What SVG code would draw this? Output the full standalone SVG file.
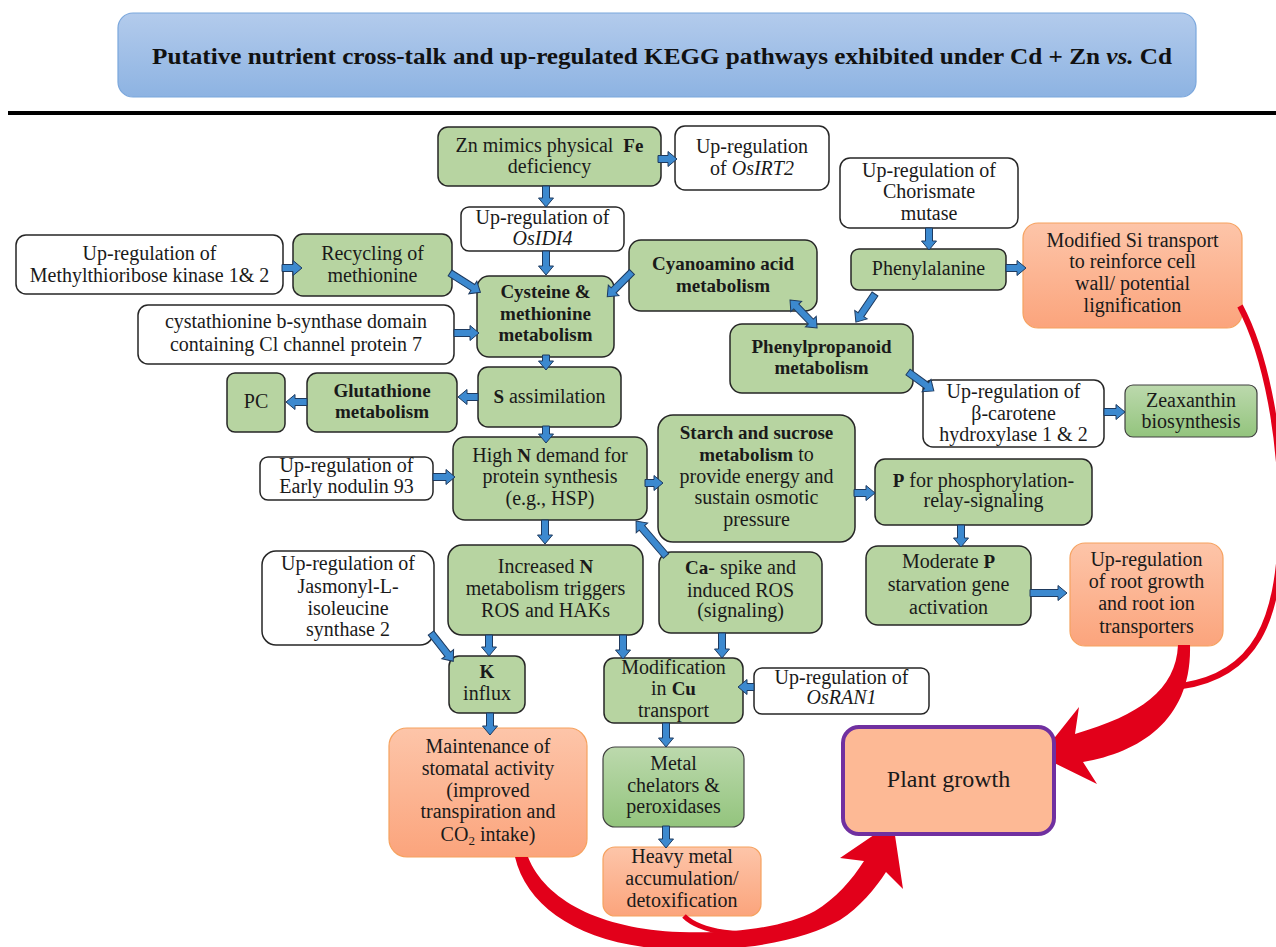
<svg xmlns="http://www.w3.org/2000/svg" width="1276" height="947" viewBox="0 0 1276 947">
<defs>
<linearGradient id="tg" x1="0" y1="0" x2="0" y2="1"><stop offset="0" stop-color="#b3cbec"/><stop offset="1" stop-color="#8db3e2"/></linearGradient>
<linearGradient id="og" x1="0" y1="0" x2="0" y2="1"><stop offset="0" stop-color="#fdc5a9"/><stop offset="1" stop-color="#fba47c"/></linearGradient>
<linearGradient id="ggr" x1="0" y1="0" x2="0" y2="1"><stop offset="0" stop-color="#bcd9ad"/><stop offset="1" stop-color="#93c47d"/></linearGradient>
<style>
.g{fill:#b7d4a1;stroke:#262626;stroke-width:1.5}
.w{fill:#fff;stroke:#262626;stroke-width:1.5}
.o{fill:url(#og);stroke:#f6a25f;stroke-width:1.2}
.gg{fill:url(#ggr);stroke:#404040;stroke-width:1.2}
.t{font-family:"Liberation Serif","Times New Roman",serif;font-size:20px;fill:#1a1a1a;text-anchor:middle}
.b{font-weight:bold;font-size:19px}
.i{font-style:italic}
.ba{fill:#3c89cf;stroke:#1e3a5f;stroke-width:1}
.red{fill:#e2001a}
.redl{fill:none;stroke:#e2001a}
</style>
</defs>
<rect width="1276" height="947" fill="#fff"/>
<g id="title">
<rect x="118" y="13" width="1078" height="84" rx="15" fill="url(#tg)" stroke="#7ba7dc" stroke-width="1.2"/>
<text x="152" y="64" textLength="1020" lengthAdjust="spacingAndGlyphs" style="font-family:'Liberation Serif','Times New Roman',serif;font-size:24px;font-weight:bold;fill:#111">Putative nutrient cross-talk and up-regulated KEGG pathways exhibited under Cd + Zn <tspan font-style="italic">vs.</tspan> Cd</text>
</g>
<rect x="8" y="111" width="1268" height="4" fill="#000"/>

<g id="n-zn"><rect class="g" x="438" y="127" width="223" height="59" rx="10"/><text class="t" x="549.5" y="152" xml:space="preserve">Zn mimics physical  <tspan class="b">Fe</tspan></text><text class="t" x="549.5" y="173">deficiency</text></g>
<g id="n-osirt2"><rect class="w" x="675" y="126" width="154" height="64" rx="10"/><text class="t" x="752" y="153">Up-regulation</text><text class="t" x="752" y="175">of <tspan class="i">OsIRT2</tspan></text></g>
<g id="n-osidi4"><rect class="w" x="461" y="207" width="163" height="44" rx="8"/><text class="t" x="542.5" y="224">Up-regulation of</text><text class="t i" x="542.5" y="245">OsIDI4</text></g>
<g id="n-cyano"><rect class="g" x="629" y="240" width="188" height="71" rx="12"/><text class="t b" x="723" y="270">Cyanoamino acid</text><text class="t b" x="723" y="292">metabolism</text></g>
<g id="n-mtk"><rect class="w" x="16" y="235" width="267" height="59" rx="10"/><text class="t" x="149.5" y="260">Up-regulation of</text><text class="t" x="149.5" y="282">Methylthioribose kinase 1&amp; 2</text></g>
<g id="n-recyc"><rect class="g" x="293" y="234" width="159" height="62" rx="10"/><text class="t" x="372.5" y="260">Recycling of</text><text class="t" x="372.5" y="282">methionine</text></g>
<g id="n-cbs"><rect class="w" x="138" y="305" width="316" height="59" rx="10"/><text class="t" x="296" y="328">cystathionine b-synthase domain</text><text class="t" x="296" y="351">containing Cl channel protein 7</text></g>
<g id="n-cys"><rect class="g" x="477" y="276" width="137" height="81" rx="12"/><text class="t b" x="545.5" y="298">Cysteine &amp;</text><text class="t b" x="545.5" y="320">methionine</text><text class="t b" x="545.5" y="341">metabolism</text></g>
<g id="n-chor"><rect class="w" x="840" y="158" width="178" height="70" rx="10"/><text class="t" x="929" y="177">Up-regulation of</text><text class="t" x="929" y="198">Chorismate</text><text class="t" x="929" y="220">mutase</text></g>
<g id="n-phe"><rect class="g" x="851" y="249" width="155" height="41" rx="8"/><text class="t" x="928.5" y="275">Phenylalanine</text></g>
<g id="n-si"><rect class="o" x="1023" y="223" width="219" height="105" rx="15"/><text class="t" x="1132.5" y="247">Modified Si transport</text><text class="t" x="1132.5" y="268">to reinforce cell</text><text class="t" x="1132.5" y="290">wall/ potential</text><text class="t" x="1132.5" y="312">lignification</text></g>
<g id="n-phenylprop"><rect class="g" x="730" y="324" width="183" height="69" rx="12"/><text class="t b" x="821.5" y="353">Phenylpropanoid</text><text class="t b" x="821.5" y="374">metabolism</text></g>
<g id="n-bcar"><rect class="w" x="923" y="380" width="181" height="67" rx="10"/><text class="t" x="1013.5" y="398">Up-regulation of</text><text class="t" x="1013.5" y="420">β-carotene</text><text class="t" x="1013.5" y="441">hydroxylase 1 &amp; 2</text></g>
<g id="n-zea"><rect class="gg" x="1125" y="385" width="132" height="52" rx="8"/><text class="t" x="1191" y="407">Zeaxanthin</text><text class="t" x="1191" y="428">biosynthesis</text></g>
<g id="n-pc"><rect class="g" x="227" y="373" width="58" height="59" rx="8"/><text class="t" x="256" y="408">PC</text></g>
<g id="n-glut"><rect class="g" x="307" y="373" width="150" height="59" rx="10"/><text class="t b" x="382" y="397">Glutathione</text><text class="t b" x="382" y="418">metabolism</text></g>
<g id="n-s"><rect class="g" x="478" y="367" width="143" height="60" rx="10"/><text class="t" x="549.5" y="403"><tspan class="b">S</tspan> assimilation</text></g>
<g id="n-nod"><rect class="w" x="260" y="457" width="173" height="43" rx="8"/><text class="t" x="346.5" y="472">Up-regulation of</text><text class="t" x="346.5" y="493">Early nodulin 93</text></g>
<g id="n-highn"><rect class="g" x="453" y="437" width="194" height="83" rx="12"/><text class="t" x="550" y="462">High <tspan class="b">N</tspan> demand for</text><text class="t" x="550" y="483">protein synthesis</text><text class="t" x="550" y="505">(e.g., HSP)</text></g>
<g id="n-starch"><rect class="g" x="658" y="415" width="197" height="127" rx="15"/><text class="t b" x="756.5" y="439">Starch and sucrose</text><text class="t" x="756.5" y="461"><tspan class="b">metabolism</tspan> to</text><text class="t" x="756.5" y="483">provide energy and</text><text class="t" x="756.5" y="504">sustain osmotic</text><text class="t" x="756.5" y="526">pressure</text></g>
<g id="n-p"><rect class="g" x="875" y="459" width="217" height="66" rx="10"/><text class="t" x="983.5" y="487"><tspan class="b">P</tspan> for phosphorylation-</text><text class="t" x="983.5" y="507">relay-signaling</text></g>
<g id="n-mod"><rect class="g" x="866" y="546" width="165" height="79" rx="12"/><text class="t" x="948.5" y="568">Moderate <tspan class="b">P</tspan></text><text class="t" x="948.5" y="591">starvation gene</text><text class="t" x="948.5" y="614">activation</text></g>
<g id="n-root"><rect class="o" x="1070" y="543" width="153" height="103" rx="15"/><text class="t" x="1146.5" y="566">Up-regulation</text><text class="t" x="1146.5" y="588">of root growth</text><text class="t" x="1146.5" y="610">and root ion</text><text class="t" x="1146.5" y="633">transporters</text></g>
<g id="n-jas"><rect class="w" x="262" y="551" width="172" height="94" rx="14"/><text class="t" x="348" y="570">Up-regulation of</text><text class="t" x="348" y="593">Jasmonyl-L-</text><text class="t" x="348" y="615">isoleucine</text><text class="t" x="348" y="636">synthase 2</text></g>
<g id="n-incn"><rect class="g" x="448" y="545" width="195" height="90" rx="14"/><text class="t" x="545.5" y="573">Increased <tspan class="b">N</tspan></text><text class="t" x="545.5" y="595">metabolism triggers</text><text class="t" x="545.5" y="617">ROS and HAKs</text></g>
<g id="n-ca"><rect class="g" x="659" y="552" width="163" height="81" rx="12"/><text class="t" x="740.5" y="574"><tspan class="b">Ca</tspan>- spike and</text><text class="t" x="740.5" y="597">induced ROS</text><text class="t" x="740.5" y="617">(signaling)</text></g>
<g id="n-k"><rect class="g" x="449" y="656" width="76" height="57" rx="10"/><text class="t b" x="487" y="678">K</text><text class="t" x="487" y="700">influx</text></g>
<g id="n-cu"><rect class="g" x="604" y="658" width="139" height="65" rx="10"/><text class="t" x="673.5" y="674">Modification</text><text class="t" x="673.5" y="695">in <tspan class="b">Cu</tspan></text><text class="t" x="673.5" y="717">transport</text></g>
<g id="n-osran1"><rect class="w" x="754" y="668" width="175" height="46" rx="8"/><text class="t" x="841.5" y="684">Up-regulation of</text><text class="t i" x="841.5" y="704">OsRAN1</text></g>
<g id="n-stom"><rect class="o" x="389" y="728" width="198" height="129" rx="18"/><text class="t" x="488" y="753">Maintenance of</text><text class="t" x="488" y="775">stomatal activity</text><text class="t" x="488" y="797">(improved</text><text class="t" x="488" y="818">transpiration and</text><text class="t" x="488" y="841">CO<tspan font-size="13px" dy="4">2</tspan><tspan dy="-4"> intake)</tspan></text></g>
<g id="n-metal"><rect class="gg" x="603" y="747" width="141" height="80" rx="12"/><text class="t" x="673.5" y="770">Metal</text><text class="t" x="673.5" y="792">chelators &amp;</text><text class="t" x="673.5" y="813">peroxidases</text></g>
<g id="n-heavy"><rect class="o" x="603" y="847" width="158" height="69" rx="12"/><text class="t" x="682" y="863">Heavy metal</text><text class="t" x="682" y="885">accumulation/</text><text class="t" x="682" y="907">detoxification</text></g>

<g id="connectors">
<path class="redl" stroke-width="6" d="M1240,306 C1266,355 1283,440 1281,530 C1279,620 1256,675 1182,686"/>
<path class="red" d="M1178,645 H1190 C1192,720 1140,752 1083,762 L1097,784 L1040,756 L1079,707 L1075,734 C1140,715 1176,690 1178,645 Z"/>
<path class="redl" stroke-width="5" d="M684,916 C700,932 740,938 790,932"/>
<path class="red" d="M515,857 C528,912 590,950 690,950 C760,950 810,937 840,920 C860,907 875,889 886,872 L903,889 L893,822 L840,858 L864,861 C852,880 835,899 815,911 C785,927 735,934 680,932 C600,929 545,900 528,857 Z"/>
<path class="ba" transform="translate(658,159)" d="M0,-3.5H10V-7.5L19,0L10,7.5V3.5H0Z"/>
<path class="ba" transform="translate(546,186) rotate(90)" d="M0,-3.5H12V-7.5L21,0L12,7.5V3.5H0Z"/>
<path class="ba" transform="translate(546,251) rotate(90)" d="M0,-3.5H15V-7.5L24,0L15,7.5V3.5H0Z"/>
<path class="ba" transform="translate(282,268)" d="M0,-3.5H11V-7.5L20,0L11,7.5V3.5H0Z"/>
<path class="ba" transform="translate(450,273) rotate(32.3)" d="M0,-3.5H27V-7.5L36,0L27,7.5V3.5H0Z"/>
<path class="ba" transform="translate(454,333)" d="M0,-3.5H16V-7.5L25,0L16,7.5V3.5H0Z"/>
<path class="ba" transform="translate(632,272) rotate(135)" d="M0,-3.5H26V-7.5L35,0L26,7.5V3.5H0Z"/>
<path class="ba" transform="translate(546,355) rotate(90)" d="M0,-3.5H6V-7.5L15,0L6,7.5V3.5H0Z"/>
<path class="ba" transform="translate(478,397) rotate(180)" d="M0,-3.5H11V-7.5L20,0L11,7.5V3.5H0Z"/>
<path class="ba" transform="translate(307,402) rotate(180)" d="M0,-3.5H12V-7.5L21,0L12,7.5V3.5H0Z"/>
<path class="ba" transform="translate(546,426) rotate(90)" d="M0,-3.5H8V-7.5L17,0L8,7.5V3.5H0Z"/>
<path class="ba" transform="translate(433,477)" d="M0,-3.5H13V-7.5L22,0L13,7.5V3.5H0Z"/>
<path class="ba" transform="translate(645,483)" d="M0,-3.5H9V-7.5L18,0L9,7.5V3.5H0Z"/>
<path class="ba" transform="translate(854,493)" d="M0,-3.5H12V-7.5L21,0L12,7.5V3.5H0Z"/>
<path class="ba" transform="translate(961,525) rotate(90)" d="M0,-3.5H13V-7.5L22,0L13,7.5V3.5H0Z"/>
<path class="ba" transform="translate(1030,593)" d="M0,-3.5H28V-7.5L37,0L28,7.5V3.5H0Z"/>
<path class="ba" transform="translate(545,520) rotate(90)" d="M0,-3.5H15V-7.5L24,0L15,7.5V3.5H0Z"/>
<path class="ba" transform="translate(666,556) rotate(229.4)" d="M0,-3.5H37V-7.5L46,0L37,7.5V3.5H0Z"/>
<path class="ba" transform="translate(489,635) rotate(90)" d="M0,-3.5H12V-7.5L21,0L12,7.5V3.5H0Z"/>
<path class="ba" transform="translate(431,633) rotate(51.8)" d="M0,-3.5H27V-7.5L36,0L27,7.5V3.5H0Z"/>
<path class="ba" transform="translate(623,635) rotate(90)" d="M0,-3.5H15V-7.5L24,0L15,7.5V3.5H0Z"/>
<path class="ba" transform="translate(722,633) rotate(90)" d="M0,-3.5H16V-7.5L25,0L16,7.5V3.5H0Z"/>
<path class="ba" transform="translate(754,687) rotate(180)" d="M0,-3.5H7V-7.5L16,0L7,7.5V3.5H0Z"/>
<path class="ba" transform="translate(490,713) rotate(90)" d="M0,-3.5H13V-7.5L22,0L13,7.5V3.5H0Z"/>
<path class="ba" transform="translate(666,723) rotate(90)" d="M0,-3.5H15V-7.5L24,0L15,7.5V3.5H0Z"/>
<path class="ba" transform="translate(666,826) rotate(90)" d="M0,-3.5H13V-7.5L22,0L13,7.5V3.5H0Z"/>
<path class="ba" transform="translate(929,228) rotate(90)" d="M0,-3.5H13V-7.5L22,0L13,7.5V3.5H0Z"/>
<path class="ba" transform="translate(1006,268)" d="M0,-3.5H11V-7.5L20,0L11,7.5V3.5H0Z"/>
<path class="ba" transform="translate(875,294) rotate(124.2)" d="M0,-3.5H25V-7.5L34,0L25,7.5V3.5H0Z"/>
<path class="ba" transform="translate(908,372) rotate(36.2)" d="M0,-3.5H23V-7.5L32,0L23,7.5V3.5H0Z"/>
<path class="ba" transform="translate(1104,412)" d="M0,-3.5H12V-7.5L21,0L12,7.5V3.5H0Z"/>
<path class="ba" transform="translate(790,300) rotate(46)" d="M0,0L9,-7.5V-3.5H30V-7.5L39,0L30,7.5V3.5H9V7.5Z"/>
</g>

<g id="n-plant"><rect x="843" y="727" width="211" height="107" rx="16" fill="#fdb995" stroke="#7030a0" stroke-width="4"/><text class="t" x="948.5" y="787" style="font-size:24px">Plant growth</text></g>
</svg>
